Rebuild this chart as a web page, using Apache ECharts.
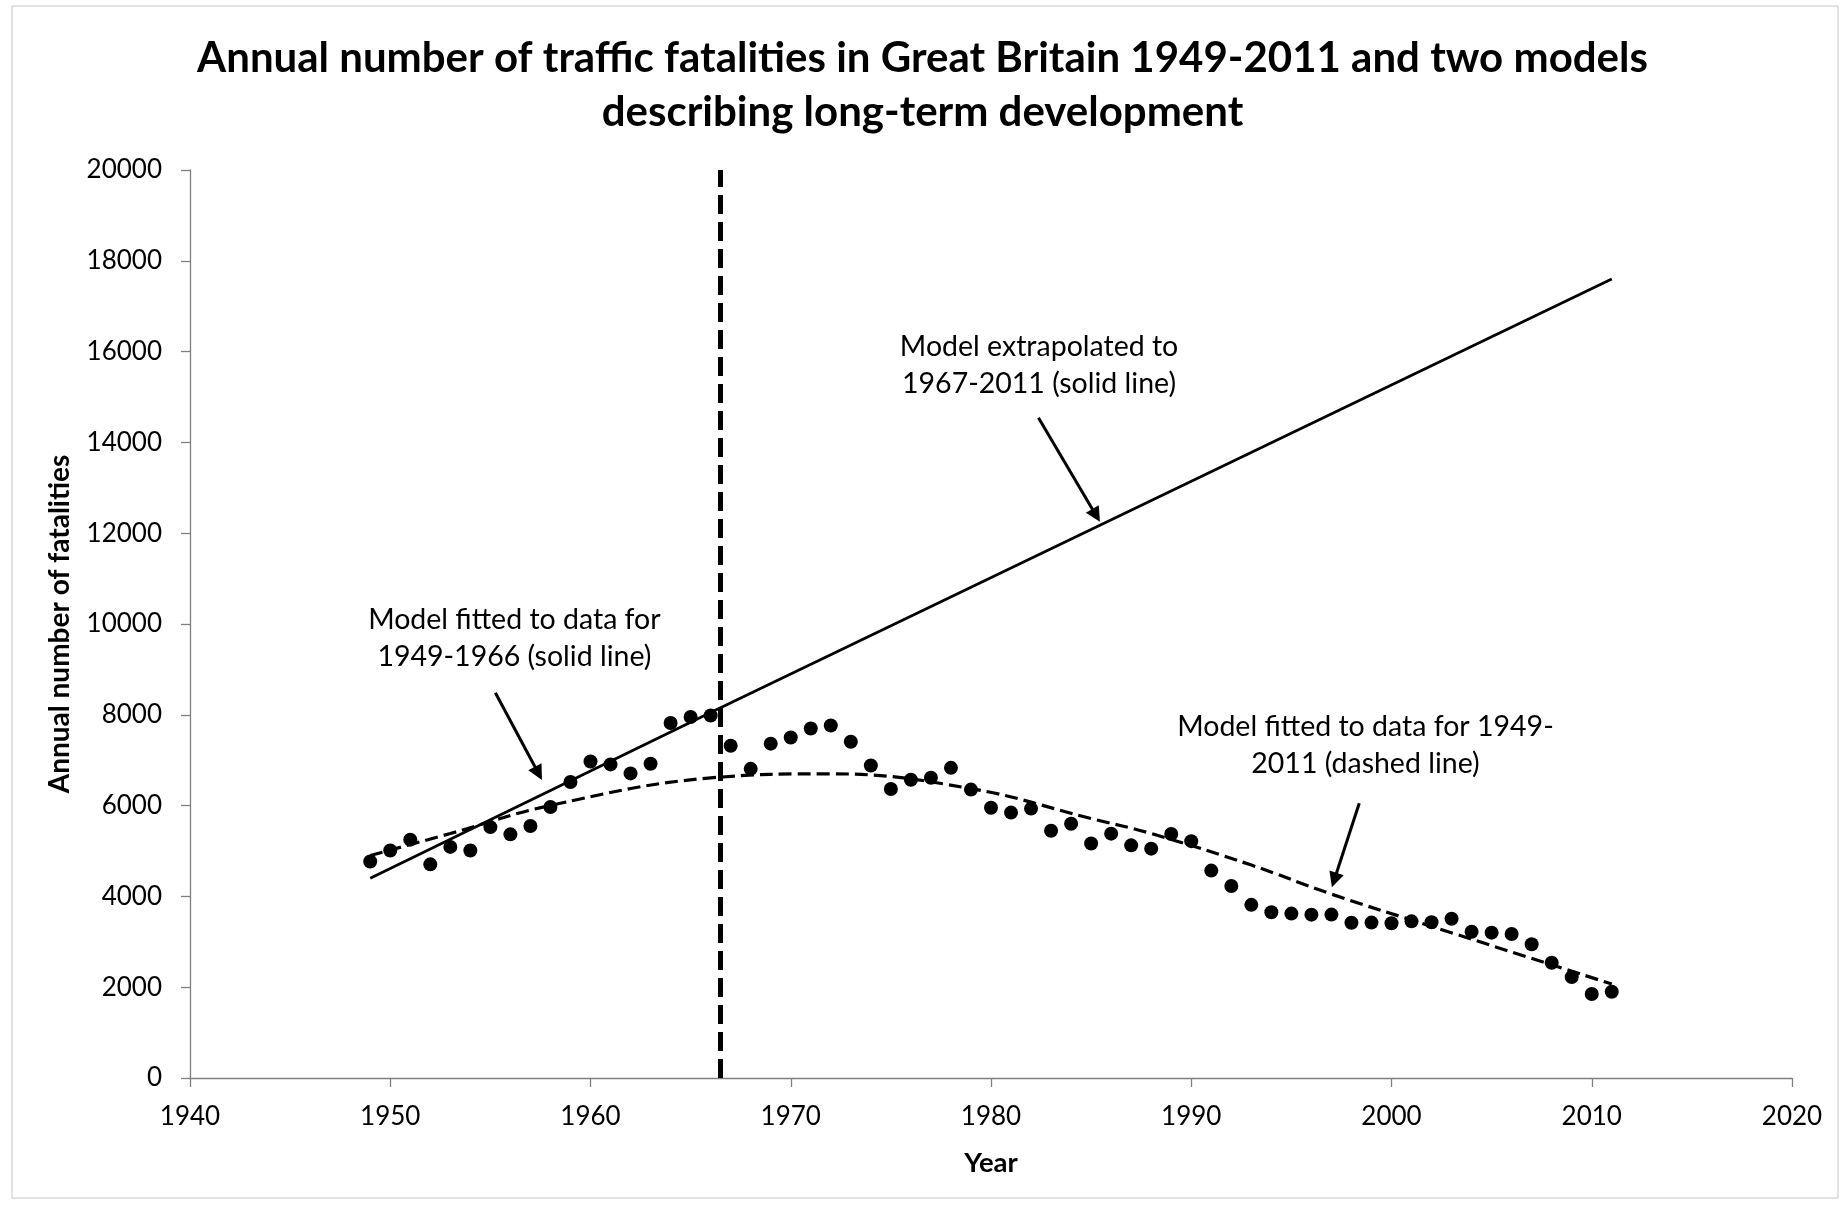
<!DOCTYPE html>
<html><head><meta charset="utf-8">
<script src="https://cdn.jsdelivr.net/npm/echarts@6/dist/echarts.min.js"></script>
<style>html,body{margin:0;padding:0;background:#fff}#c{width:1845px;height:1205px}</style>
</head><body><div id="c"></div><script>
// Observed annual fatalities
const years = [1949,1950,1951,1952,1953,1954,1955,1956,1957,1958,1959,1960,1961,1962,1963,1964,1965,1966,1967,1968,1969,1970,1971,1972,1973,1974,1975,1976,1977,1978,1979,1980,1981,1982,1983,1984,1985,1986,1987,1988,1989,1990,1991,1992,1993,1994,1995,1996,1997,1998,1999,2000,2001,2002,2003,2004,2005,2006,2007,2008,2009,2010,2011];
const fatalities = [4770,5012,5250,4706,5090,5010,5526,5367,5550,5970,6520,6970,6908,6709,6922,7820,7952,7985,7319,6810,7365,7499,7699,7763,7406,6883,6366,6570,6614,6831,6352,5953,5846,5934,5445,5599,5165,5382,5125,5052,5373,5217,4568,4229,3814,3650,3621,3598,3599,3421,3423,3409,3450,3431,3508,3221,3201,3172,2946,2538,2222,1850,1901];
// Model fitted to 1949-1966, extrapolated to 2011 (solid)
const solidModelYears = [1949, 1966, 2011];
const solidModelValues = [4400, 8050, 17600];
// Model fitted to 1949-2011 (dashed)
const dashedModelYears = [1949,1953,1958,1966,1972,1979,1985,1988,1993,1997,2002,2011];
const dashedModelValues = [4900,5385,6005,6610,6700,6375,5715,5385,4690,4050,3340,2070];
// Split year marker
const splitYear = 1966.5;
// Annotation texts and anchor points (data space)
const noteTexts = ['Model fitted to data for\n1949-1966 (solid line)', 'Model extrapolated to\n1967-2011 (solid line)', 'Model fitted to data for 1949-\n2011 (dashed line)'];
const noteX = [1956.2, 1982.4, 1998.7];
const noteY = [9690, 15705, 7326];
const arrowFromX = [1955.25, 1982.37, 1998.39];
const arrowFromY = [8487, 14544, 6050];
const arrowToX = [1957.4, 1985.25, 1997.14];
const arrowToY = [6711, 12392, 4361];
const xTicks = {min: 1940, max: 2020, interval: 10};
const yTicks = {min: 0, max: 20000, interval: 2000};

const FONT = 'Lato';
const chart = echarts.init(document.getElementById('c'));
chart.setOption({
  animation: false,
  backgroundColor: '#fff',
  title: {
    text: 'Annual number of traffic fatalities in Great Britain 1949-2011 and two models\ndescribing long-term development',
    left: 'center', top: 26,
    textStyle: {fontFamily: FONT, fontWeight: 'bold', fontSize: 42, lineHeight: 54, color: '#000'}
  },
  graphic: [{type: 'rect', shape: {x: 12, y: 6, width: 1826, height: 1192}, style: {fill: 'none', stroke: '#d9d9d9', lineWidth: 1.5}, silent: true}],
  grid: {left: 190, right: 53, top: 170, bottom: 127},
  xAxis: {
    type: 'value', min: xTicks.min, max: xTicks.max, interval: xTicks.interval,
    name: 'Year', nameLocation: 'middle', nameGap: 71,
    nameTextStyle: {fontFamily: FONT, fontWeight: 'bold', fontSize: 27.5, color: '#000'},
    axisLine: {lineStyle: {color: '#7f7f7f', width: 1.3}},
    axisTick: {show: true, length: 9, lineStyle: {color: '#7f7f7f', width: 1.3}},
    axisLabel: {fontFamily: FONT, fontSize: 26, color: '#000', margin: 26, formatter: v => String(v)},
    splitLine: {show: false}
  },
  yAxis: {
    type: 'value', min: yTicks.min, max: yTicks.max, interval: yTicks.interval,
    name: 'Annual number of fatalities', nameLocation: 'middle', nameGap: 116,
    nameTextStyle: {fontFamily: FONT, fontWeight: 'bold', fontSize: 28, color: '#000'},
    axisLine: {show: true, lineStyle: {color: '#7f7f7f', width: 1.3}},
    axisTick: {show: true, length: 9, lineStyle: {color: '#7f7f7f', width: 1.3}},
    axisLabel: {fontFamily: FONT, fontSize: 26, color: '#000', margin: 28, formatter: v => String(v)},
    splitLine: {show: false}
  },
  series: [
    {
      type: 'line', name: 'solid', data: solidModelYears.map((y, i) => [y, solidModelValues[i]]),
      showSymbol: false, symbol: 'none', lineStyle: {color: '#000', width: 2.8}, silent: true, z: 3
    },
    {
      type: 'line', name: 'dashed', data: dashedModelYears.map((y, i) => [y, dashedModelValues[i]]),
      smooth: 0.4, showSymbol: false, symbol: 'none',
      lineStyle: {color: '#000', width: 3.2, type: [13, 6]}, silent: true, z: 3,
      markLine: {
        silent: true, symbol: ['none', 'none'], label: {show: false},
        lineStyle: {color: '#000', width: 5, type: [19, 8]},
        data: [{xAxis: splitYear}]
      }
    },
    {
      type: 'scatter', name: 'data', data: years.map((y, i) => [y, fatalities[i]]),
      symbol: 'circle', symbolSize: 14, itemStyle: {color: '#000', opacity: 1}, z: 4
    },
    {
      type: 'line', name: 'notes', data: [[noteX[0], noteY[0]]], showSymbol: false, symbol: 'none',
      lineStyle: {opacity: 0}, silent: true,
      markLine: {
        silent: true, symbol: ['none', 'triangle'], symbolSize: 15,
        label: {show: false},
        lineStyle: {color: '#000', width: 3, type: 'solid'},
        itemStyle: {color: '#000'},
        data: arrowFromX.map((x, i) => [{coord: [x, arrowFromY[i]]}, {coord: [arrowToX[i], arrowToY[i]]}])
      },
      markPoint: {
        silent: true, symbol: 'circle', symbolSize: 1, itemStyle: {color: 'rgba(0,0,0,0)'},
        label: {show: true, position: 'inside', fontFamily: FONT, fontSize: 28.5, lineHeight: 37, color: '#000', align: 'center', verticalAlign: 'middle',
          formatter: p => p.name},
        data: noteTexts.map((t, i) => ({name: t, coord: [noteX[i], noteY[i]]}))
      }
    }
  ]
});
</script></body></html>
